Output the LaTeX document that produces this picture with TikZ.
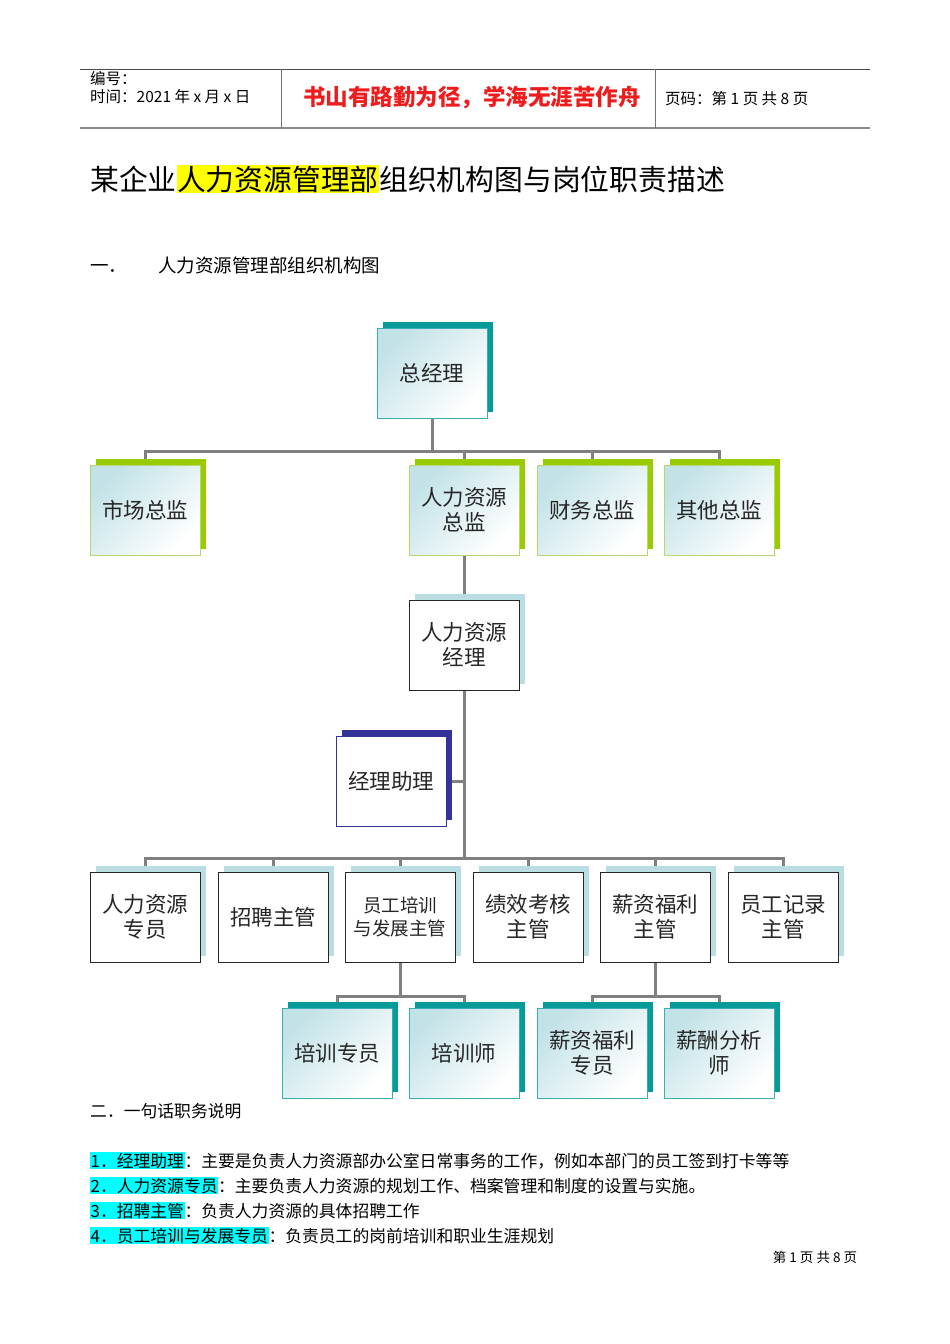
\documentclass[tikz,border=0pt]{standalone}
\usepackage{fontspec}
\setmainfont{Noto Sans CJK SC}
\usepackage{xcolor}
\usetikzlibrary{calc}
\pgfdeclarelayer{bg}
\pgfdeclarelayer{shadowlayer}
\pgfsetlayers{bg,shadowlayer,main}
\definecolor{tealsh}{HTML}{069A98}
\definecolor{tealbd}{HTML}{3AAFAF}
\definecolor{greensh}{HTML}{99CC00}
\definecolor{greenbd}{HTML}{B5D96B}
\definecolor{lblue}{HTML}{B8DEE2}
\definecolor{navysh}{HTML}{333399}
\definecolor{gradtop}{HTML}{C2E2E7}
\definecolor{conncol}{HTML}{808080}
\definecolor{redtxt}{HTML}{EE1C1C}
\definecolor{hlcyan}{HTML}{00FFFF}
\definecolor{hlyellow}{HTML}{FFFF00}
\tikzset{
  box/.style={minimum width=110pt, minimum height=90pt, inner sep=2pt, align=center,
    font=\fontsize{21.5}{25}\selectfont, line width=0.9pt, text=black!85},
  gradbox/.style={box, top color=gradtop, bottom color=white, shading angle=45},
  tealbox/.style={gradbox, draw=tealbd},
  greenbox/.style={gradbox, draw=greenbd},
  whitebox/.style={box, fill=white, draw=black!85},
  navybox/.style={box, fill=white, draw=navysh},
  conn/.style={draw=conncol, line width=3pt},
  txt/.style={anchor=base west, inner sep=0pt},
}
\newcommand\boxsh[2]{\fill[#2] ($(#1.south west)+(6,-6)$) rectangle ($(#1.north east)+(6,-6)$);}
\setlength{\fboxsep}{0.5pt}
\begin{document}
\begin{tikzpicture}[x=1pt,y=-1pt]
\useasboundingbox (0,0) rectangle (950,1344);
\begin{pgfonlayer}{bg}
\fill[white] (0,0) rectangle (950,1344);
\end{pgfonlayer}

% header
\draw[black!70, line width=0.8pt] (80,69) -- (870,69);
\draw[black!45, line width=2pt] (80,128) -- (870,128);
\draw[black!55, line width=0.8pt] (281,69) -- (281,128);
\draw[black!55, line width=0.8pt] (655,69) -- (655,128);
\node[txt, font=\fontsize{15.5}{18}\selectfont] (bh) at (90,84) {编号：};
\node[txt, font=\fontsize{15.5}{18}\selectfont] (sj) at (90,102) {时间：2021 年 x 月 x 日};
\node[font=\bfseries\fontsize{22.5}{26}\selectfont, text=redtxt, inner sep=0pt] (motto) at (472,98) {书山有路勤为径，学海无涯苦作舟};
\node[txt, font=\fontsize{15.5}{18}\selectfont] (ym) at (665,104) {页码：第 1 页 共 8 页};

% title
\node[txt, font=\fontsize{28.8}{32}\selectfont] (title) at (90,190) {某企业\colorbox{hlyellow}{人力资源管理部}组织机构图与岗位职责描述};
\node[txt, font=\fontsize{18.5}{21}\selectfont] (s1a) at (90,272) {一．};
\node[txt, font=\fontsize{18.5}{21}\selectfont] (s1b) at (158,272) {人力资源管理部组织机构图};

% org chart nodes
\node[tealbox] (zjl) at (432,373) {总经理};

\node[greenbox] (sc) at (145,510) {市场总监};
\node[greenbox] (hrd) at (464,510) {人力资源\\总监};
\node[greenbox] (cw) at (592,510) {财务总监};
\node[greenbox] (qt) at (719,510) {其他总监};

\node[whitebox] (hrm) at (464,645) {人力资源\\经理};
\node[navybox] (ast) at (391,781) {经理助理};

\node[whitebox] (zy) at (145,917) {人力资源\\专员};
\node[whitebox] (zp) at (273,917) {招聘主管};
\node[whitebox, font=\fontsize{18.5}{23}\selectfont] (px) at (400,917) {员工培训\\与发展主管};
\node[whitebox] (jx) at (528,917) {绩效考核\\主管};
\node[whitebox] (xz) at (655,917) {薪资福利\\主管};
\node[whitebox] (jl) at (783,917) {员工记录\\主管};

\node[tealbox] (pxzy) at (337,1053) {培训专员};
\node[tealbox] (pxs) at (464,1053) {培训师};
\node[tealbox] (xzzy) at (592,1053) {薪资福利\\专员};
\node[tealbox] (xcfx) at (719,1053) {薪酬分析\\师};

% shadows
\begin{pgfonlayer}{shadowlayer}
\boxsh{zjl}{tealsh}
\boxsh{sc}{greensh}\boxsh{hrd}{greensh}\boxsh{cw}{greensh}\boxsh{qt}{greensh}
\boxsh{hrm}{lblue}
\boxsh{ast}{navysh}
\boxsh{zy}{lblue}\boxsh{zp}{lblue}\boxsh{px}{lblue}\boxsh{jx}{lblue}\boxsh{xz}{lblue}\boxsh{jl}{lblue}
\boxsh{pxzy}{tealsh}\boxsh{pxs}{tealsh}\boxsh{xzzy}{tealsh}\boxsh{xcfx}{tealsh}
\end{pgfonlayer}

% connectors
\begin{pgfonlayer}{bg}
\foreach \c in {sc,hrd,cw,qt} \draw[conn] (zjl.south) -- ++(0,33) -| (\c.north);
\draw[conn] (hrd.south) -- (hrm.north);
\foreach \c in {zy,zp,px,jx,xz,jl} \draw[conn] (hrm.south) -- ++(0,168) -| (\c.north);
\draw[conn] (ast.east) -- (ast.east -| hrm.south);
\foreach \c in {pxzy,pxs} \draw[conn] (px.south) -- ++(0,34) -| (\c.north);
\foreach \c in {xzzy,xcfx} \draw[conn] (xz.south) -- ++(0,34) -| (\c.north);
\end{pgfonlayer}

% descriptions
\node[txt, font=\fontsize{16.8}{19}\selectfont] (s2) at (90,1117) {二．一句话职务说明};
\node[txt, font=\fontsize{16.8}{19}\selectfont] (d1) at (90,1167) {\colorbox{hlcyan}{1．经理助理}：主要是负责人力资源部办公室日常事务的工作，例如本部门的员工签到打卡等等};
\node[txt, font=\fontsize{16.8}{19}\selectfont] (d2) at (90,1192) {\colorbox{hlcyan}{2．人力资源专员}：主要负责人力资源的规划工作、档案管理和制度的设置与实施。};
\node[txt, font=\fontsize{16.8}{19}\selectfont] (d3) at (90,1217) {\colorbox{hlcyan}{3．招聘主管}：负责人力资源的具体招聘工作};
\node[txt, font=\fontsize{16.8}{19}\selectfont] (d4) at (90,1242) {\colorbox{hlcyan}{4．员工培训与发展专员}：负责员工的岗前培训和职业生涯规划};
\node[font=\fontsize{13.5}{16}\selectfont, inner sep=0pt] (foot) at (815,1257) {第 1 页 共 8 页};
\end{tikzpicture}
\end{document}
